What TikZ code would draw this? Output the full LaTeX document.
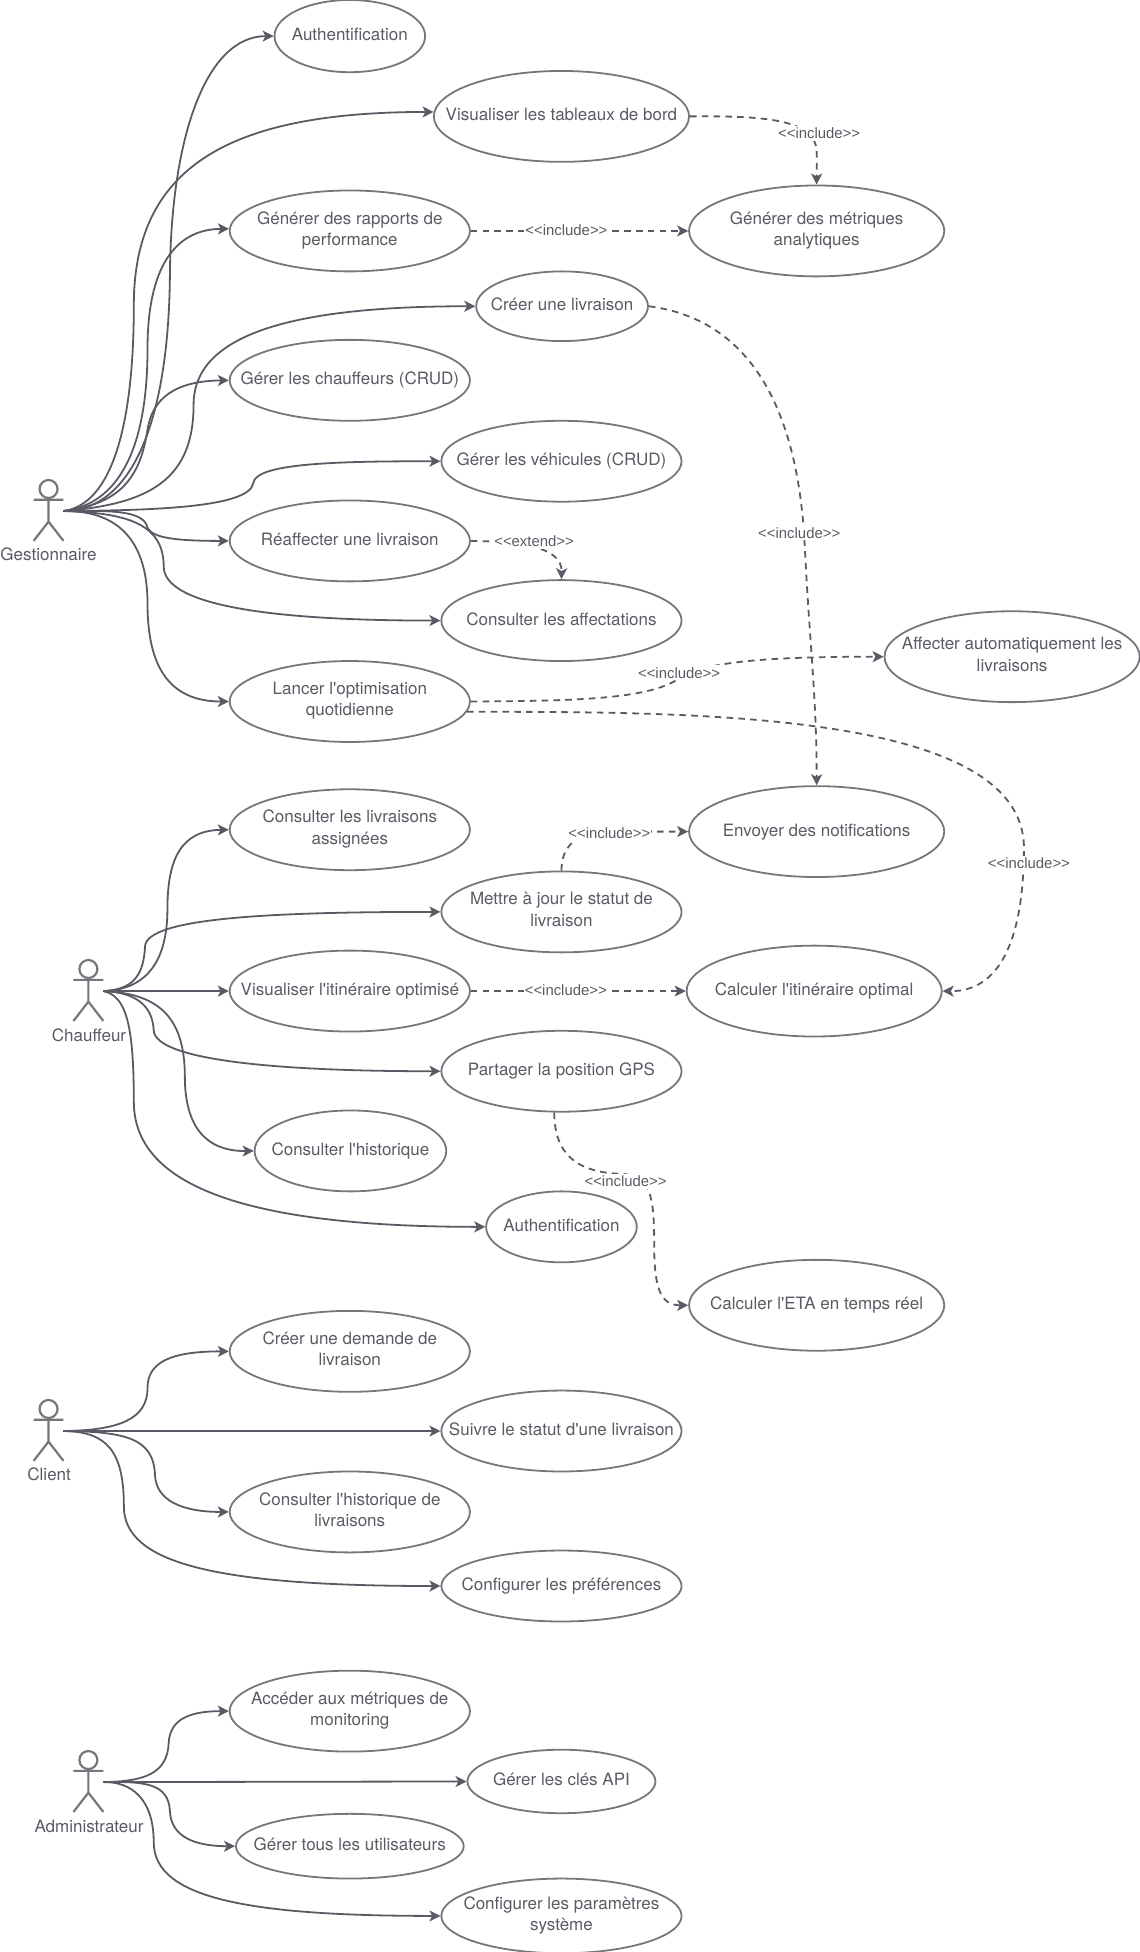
\documentclass[tikz,border=0pt]{standalone}
\usepackage{fontspec}
\usetikzlibrary{arrows.meta,shapes.geometric}
\newfontfamily\ucfont{TeX Gyre Heros}
\newfontfamily\lbfont{Liberation Sans}
\definecolor{inkc}{HTML}{5B5A64}
\definecolor{rimc}{HTML}{77767C}
\def\pxu{0.6225pt}
\newcommand{\ucstrut}{\rule[-2.5pt]{0pt}{9.5pt}}
\tikzset{
    usecase/.style 2 args={draw=rimc,line width=0.9pt,ellipse,inner sep=-40pt,align=center,text=inkc,
        font=\ucfont\fontsize{8.5}{10.6}\selectfont,minimum width=#1*\pxu,minimum height=#2*\pxu,
        execute at begin node=\ucstrut,execute at end node=\ucstrut},
    actorname/.style={text=inkc,inner sep=0pt,font=\ucfont\fontsize{8.5}{10.6}\selectfont,
        execute at begin node=\ucstrut},
    assoc/.style={draw=inkc,line width=0.9pt,-{Stealth[length=5.5pt,width=5.5pt,inset=1.4pt]}},
    dep/.style={assoc,dash pattern=on 3.3pt off 2.6pt},
    deplabel/.style={fill=white,text=inkc,inner xsep=0.5pt,inner ysep=1pt,font=\lbfont\fontsize{7.45}{9}\selectfont},
    actor/.pic={
        \draw[rimc,line width=1.1pt] (0,-17.2) circle (4.5pt);
        \draw[rimc,line width=1.1pt] (0,-10) -- (0,9) (-12,-8.5) -- (12,-8.5) (-12,24.5) -- (0,9) -- (12,24.5);
        \coordinate (-e) at (12,0.5);
    }
}

\begin{document}
\begin{tikzpicture}[x=\pxu,y=-\pxu]
    \useasboundingbox (-0.5,0) rectangle (914.5,1568);

    % acteurs
    \pic (gest) at (38.5,410) {actor};
    \pic (chauf) at (70.5,795.6) {actor};
    \pic (clt) at (38.5,1149) {actor};
    \pic (adm) at (70.5,1431) {actor};
    \node[actorname] (gestname) at (38.5,447) {Gestionnaire};
    \node[actorname] (chaufname) at (71,833) {Chauffeur};
    \node[actorname] (cltname) at (39,1186) {Client};
    \node[actorname] (admname) at (71,1468) {Administrateur};

    % cas d'utilisation
    \node[usecase={121}{58}] (auth) at (280.5,29) {Authentification};
    \node[usecase={205}{73}] (vis) at (450.5,93.5) {Visualiser les tableaux de bord};
    \node[usecase={193}{65}] (rap) at (280.5,185.5) {Générer des rapports de\\performance};
    \node[usecase={205}{73}] (met) at (655.5,185.5) {Générer des métriques\\analytiques};
    \node[usecase={138}{56}] (crea) at (451,246) {Créer une livraison};
    \node[usecase={193}{65}] (gch) at (280.5,305.5) {Gérer les chauffeurs (CRUD)};
    \node[usecase={193}{65}] (gve) at (450.5,370.5) {Gérer les véhicules (CRUD)};
    \node[usecase={193}{65}] (rea) at (280.5,434.5) {Réaffecter une livraison};
    \node[usecase={193}{65}] (aff) at (450.5,498.5) {Consulter les affectations};
    \node[usecase={193}{65}] (lan) at (280.5,563.5) {Lancer l'optimisation\\quotidienne};
    \node[usecase={205}{73}] (auto) at (812.5,527.5) {Affecter automatiquement les\\livraisons};
    \node[usecase={205}{73}] (env) at (655.5,668) {Envoyer des notifications};
    \node[usecase={193}{65}] (asg) at (280.5,666.5) {Consulter les livraisons\\assignées};
    \node[usecase={193}{65}] (maj) at (450.5,732.5) {Mettre à jour le statut de\\livraison};
    \node[usecase={193}{65}] (iti) at (280.5,796.1) {Visualiser l'itinéraire optimisé};
    \node[usecase={205}{73}] (cal) at (653.5,796.1) {Calculer l'itinéraire optimal};
    \node[usecase={193}{65}] (gps) at (450.5,860.5) {Partager la position GPS};
    \node[usecase={154}{65}] (his) at (281,924.5) {Consulter l'historique};
    \node[usecase={121}{57}] (auth2) at (450.5,985.5) {Authentification};
    \node[usecase={205}{73}] (eta) at (655.5,1048.5) {Calculer l'ETA en temps réel};
    \node[usecase={193}{65}] (dem) at (280.5,1085.5) {Créer une demande de\\livraison};
    \node[usecase={193}{65}] (sui) at (450.5,1149.5) {Suivre le statut d'une livraison};
    \node[usecase={193}{65}] (hli) at (280.5,1214.5) {Consulter l'historique de\\livraisons};
    \node[usecase={193}{57}] (pre) at (450.5,1274) {Configurer les préférences};
    \node[usecase={193}{65}] (acc) at (280.5,1374.5) {Accéder aux métriques de\\monitoring};
    \node[usecase={151}{51}] (cle) at (450.5,1431) {Gérer les clés API};
    \node[usecase={183}{52}] (uti) at (280.5,1483) {Gérer tous les utilisateurs};
    \node[usecase={193}{60}] (par) at (450.5,1539) {Configurer les paramètres\\système};

    % gestionnaire
    \draw[assoc] (gest-e) .. controls (105,410) and (135,340) .. (136,220) .. controls (137,110) and (165,29) .. (auth.west);
    \draw[assoc] (gest-e) .. controls (90,405) and (107,340) .. (107,245) .. controls (107,130) and (190,90) .. (vis.178);
    \draw[assoc] (gest-e) .. controls (95,405) and (118,360) .. (118,280) .. controls (118,215) and (140,184) .. (rap.179);
    \draw[assoc] (gest-e) .. controls (120,405) and (155,385) .. (155,325) .. controls (155,270) and (230,246) .. (crea.west);
    \draw[assoc] (gest-e) .. controls (95,405) and (112,385) .. (118,345) .. controls (122,320) and (140,306) .. (gch.west);
    \draw[assoc] (gest-e) .. controls (120,410) and (200,408) .. (203,388) .. controls (205,372) and (270,370.5) .. (gve.west);
    \draw[assoc] (gest-e) .. controls (90,410) and (115,410) .. (118,424) .. controls (122,432) and (140,434.5) .. (rea.west);
    \draw[assoc] (gest-e) .. controls (100,412) and (131,420) .. (131,455) .. controls (131,485) and (210,498.5) .. (aff.west);
    \draw[assoc] (gest-e) .. controls (95,410) and (118,435) .. (118,485) .. controls (118,535) and (135,563.5) .. (lan.west);

    % chauffeur
    \draw[assoc] (chauf-e) .. controls (115,795) and (134,775) .. (134,730) .. controls (134,690) and (145,667) .. (asg.west);
    \draw[assoc] (chauf-e) .. controls (105,795) and (115,785) .. (116,760) .. controls (118,738) and (210,732.5) .. (maj.west);
    \draw[assoc] (chauf-e) -- (iti.west);
    \draw[assoc] (chauf-e) .. controls (105,797) and (122,805) .. (123,828) .. controls (125,850) and (210,860.5) .. (gps.west);
    \draw[assoc] (chauf-e) .. controls (125,798) and (148,815) .. (148,865) .. controls (148,905) and (165,925) .. (his.west);
    \draw[assoc] (chauf-e) .. controls (100,800) and (107,820) .. (107,885) .. controls (107,950) and (190,985.5) .. (auth2.west);

    % client
    \draw[assoc] (clt-e) .. controls (95,1149) and (118,1140) .. (118,1115) .. controls (118,1095) and (135,1085.5) .. (dem.west);
    \draw[assoc] (clt-e) -- (sui.west);
    \draw[assoc] (clt-e) .. controls (100,1150) and (123,1155) .. (124,1185) .. controls (125,1205) and (145,1214.5) .. (hli.west);
    \draw[assoc] (clt-e) .. controls (85,1150) and (99,1165) .. (99,1210) .. controls (99,1255) and (170,1274) .. (pre.west);

    % administrateur
    \draw[assoc] (adm-e) .. controls (115,1431) and (134,1425) .. (135,1400) .. controls (136,1382) and (150,1374.5) .. (acc.west);
    \draw[assoc] (adm-e) -- (cle.west);
    \draw[assoc] (adm-e) .. controls (115,1431) and (135,1432) .. (136,1455) .. controls (137,1475) and (155,1483) .. (uti.west);
    \draw[assoc] (adm-e) .. controls (105,1431) and (123,1445) .. (123,1480) .. controls (123,1525) and (200,1539) .. (par.west);

    % include / extend
    \draw[dep] (vis.east) .. controls (610,93) and (655.5,95) .. (655.5,122) -- (met.north);
    \draw[dep] (rap.east) -- (met.west);
    \draw[dep] (crea.east) .. controls (590,255) and (640,310) .. (646,440) .. controls (650,520) and (655.5,560) .. (env.north);
    \draw[dep] (rea.east) .. controls (420,435) and (451,440) .. (aff.north);
    \draw[dep] (lan.east) .. controls (460,563) and (520,562) .. (545,545) .. controls (565,532) and (610,527.5) .. (auto.west);
    \draw[dep] (lan.-5) .. controls (550,572) and (820,570) .. (822,680) .. controls (822,760) and (800,796.5) .. (cal.east);
    \draw[dep] (maj.north) .. controls (450.5,680) and (462,668) .. (490,668) -- (env.west);
    \draw[dep] (iti.east) -- (cal.west);
    \draw[dep] (gps.-100) .. controls (445,925) and (460,942) .. (500,943) .. controls (522,945) and (525,960) .. (525,1000) .. controls (525,1035) and (530,1048.5) .. (eta.west);

    \node[deplabel] (lbvis) at (657.5,107) {<<include>>};
    \node[deplabel] (lbrap) at (454.5,185) {<<include>>};
    \node[deplabel] (lbcrea) at (641.5,428) {<<include>>};
    \node[deplabel] (lbrea) at (428.5,435) {<<extend>>};
    \node[deplabel] (lbauto) at (545,540.5) {<<include>>};
    \node[deplabel] (lbcal) at (826,693.5) {<<include>>};
    \node[deplabel] (lbmaj) at (489,669.5) {<<include>>};
    \node[deplabel] (lbiti) at (454,795.5) {<<include>>};
    \node[deplabel] (lbgps) at (502,949) {<<include>>};
\end{tikzpicture}
\end{document}
